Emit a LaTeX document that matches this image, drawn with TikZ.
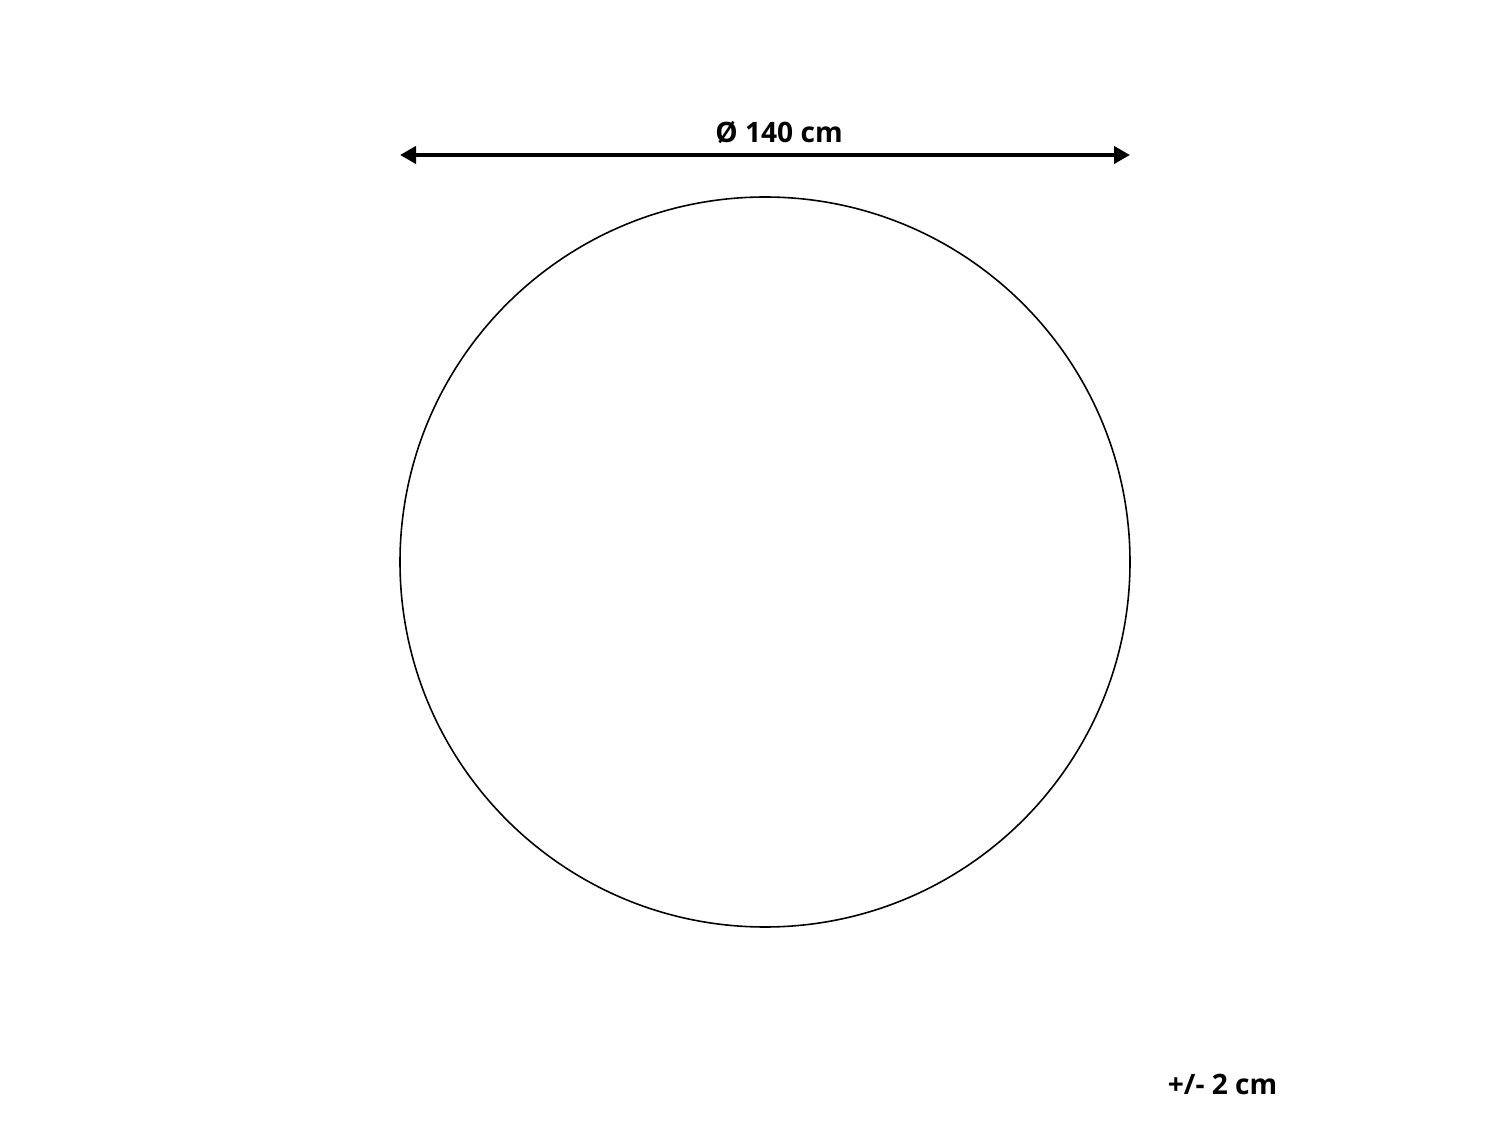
\documentclass[tikz,border=0pt]{standalone}
\usepackage{fontspec}
\setmainfont{Open Sans}
\usetikzlibrary{arrows.meta}
\tikzset{
    dim label/.style={font=\fontsize{8}{10}\selectfont\bfseries, inner sep=0pt},
    dim arrow/.style={line width=1.1pt, {Triangle[length=0.16cm,width=0.17cm]}-{Triangle[length=0.16cm,width=0.17cm]}},
}
\begin{document}
\begin{tikzpicture}[x=0.01cm, y=-0.01cm]
        \useasboundingbox (0, 0) rectangle (1500, 1125);
        %draw rug outline
        \draw[line width=0.45pt] (765, 562) circle (365);
        %draw diameter arrow
        \coordinate (left) at (400, 155);
        \coordinate (right) at (1130, 155);
        \draw[dim arrow] (left) -- (right);
        %draw labels
        \node[dim label, anchor=base] (diam) at (779, 143) {Ø 140 cm};
        \node[dim label, anchor=base east] (tol) at (1278, 1094) {+/- 2 cm};
    \end{tikzpicture}
\end{document}
